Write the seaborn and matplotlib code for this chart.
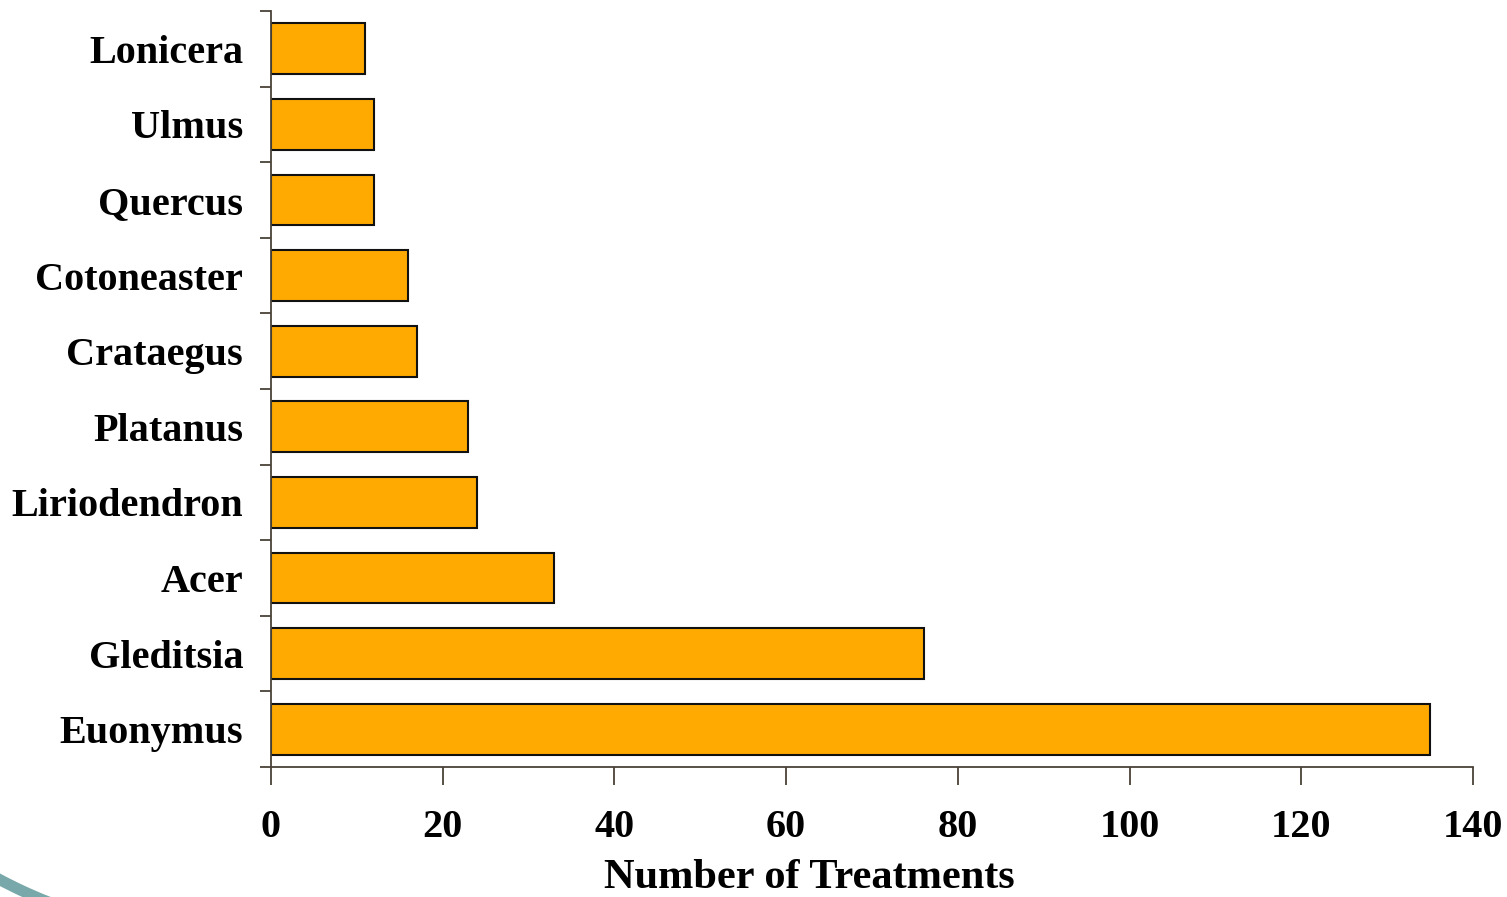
import numpy as np
import pandas as pd
import matplotlib
matplotlib.use("Agg")
import matplotlib.pyplot as plt
from matplotlib.patches import Arc
from matplotlib.transforms import IdentityTransform
import seaborn as sns

# Treatments per host genus
genera = ["Lonicera", "Ulmus", "Quercus", "Cotoneaster", "Crataegus",
          "Platanus", "Liriodendron", "Acer", "Gleditsia", "Euonymus"]
treatments = [11, 12, 12, 16, 17, 23, 24, 33, 76, 135]
x_ticks = [0, 20, 40, 60, 80, 100, 120, 140]
x_label = "Number of Treatments"

df = pd.DataFrame({"genus": genera, "count": treatments})

sns.set_theme(style="ticks")
plt.rcParams["font.family"] = ["Liberation Serif", "DejaVu Serif"]
plt.rcParams["font.weight"] = "bold"
plt.rcParams["text.color"] = "black"
plt.rcParams["axes.labelcolor"] = "black"
plt.rcParams["xtick.labelcolor"] = "black"
plt.rcParams["ytick.labelcolor"] = "black"

W, H, DPI = 1507, 897, 100
fig = plt.figure(figsize=(W / DPI, H / DPI), dpi=DPI, facecolor="white")
ax = fig.add_axes([271 / W, 1 - 767 / H, (1473 - 271) / W, (767 - 11) / H])
ax.set_facecolor("white")

sns.barplot(data=df, x="count", y="genus", orient="h", order=genera,
            color="#FFAA00", saturation=1, edgecolor="#111111",
            linewidth=1.5, width=0.67, ax=ax)

ax.set_xlim(0, 140)
ax.set_ylim(9.5, -0.5)
ax.set_xticks(x_ticks)
ax.set_xticklabels([str(t) for t in x_ticks], fontsize=29,
                   fontweight="bold", color="black")
ax.set_yticks(range(len(genera)))
ax.set_yticklabels(genera, fontsize=29, fontweight="bold", color="black")
ax.set_yticks(np.arange(-0.5, len(genera), 1.0), minor=True)

axis_grey = "#4a4238"
ax.tick_params(axis="y", which="major", length=0, pad=20)
ax.tick_params(axis="y", which="minor", length=8, width=1.3,
               direction="out", color=axis_grey)
ax.tick_params(axis="x", which="major", length=13, width=1.3,
               direction="out", color=axis_grey, pad=17)

ax.set_ylabel("")
ax.set_xlabel(x_label, fontsize=30.5, fontweight="bold", color="black")
ax.xaxis.label.set_va("baseline")
ax.xaxis.set_label_coords((809 - 271) / (1473 - 271), (767 - 888) / (767 - 11))

for side in ("top", "right"):
    ax.spines[side].set_visible(False)
for side in ("left", "bottom"):
    ax.spines[side].set_color(axis_grey)
    ax.spines[side].set_linewidth(1.3)

# teal swoosh in the lower-left corner
swoosh = Arc((222, 436), 2 * 474, 2 * 474, theta1=232, theta2=258,
             transform=IdentityTransform(), color="#78A8A9", lw=8)
fig.add_artist(swoosh)

fig.savefig("out.png", dpi=DPI, facecolor="white")
